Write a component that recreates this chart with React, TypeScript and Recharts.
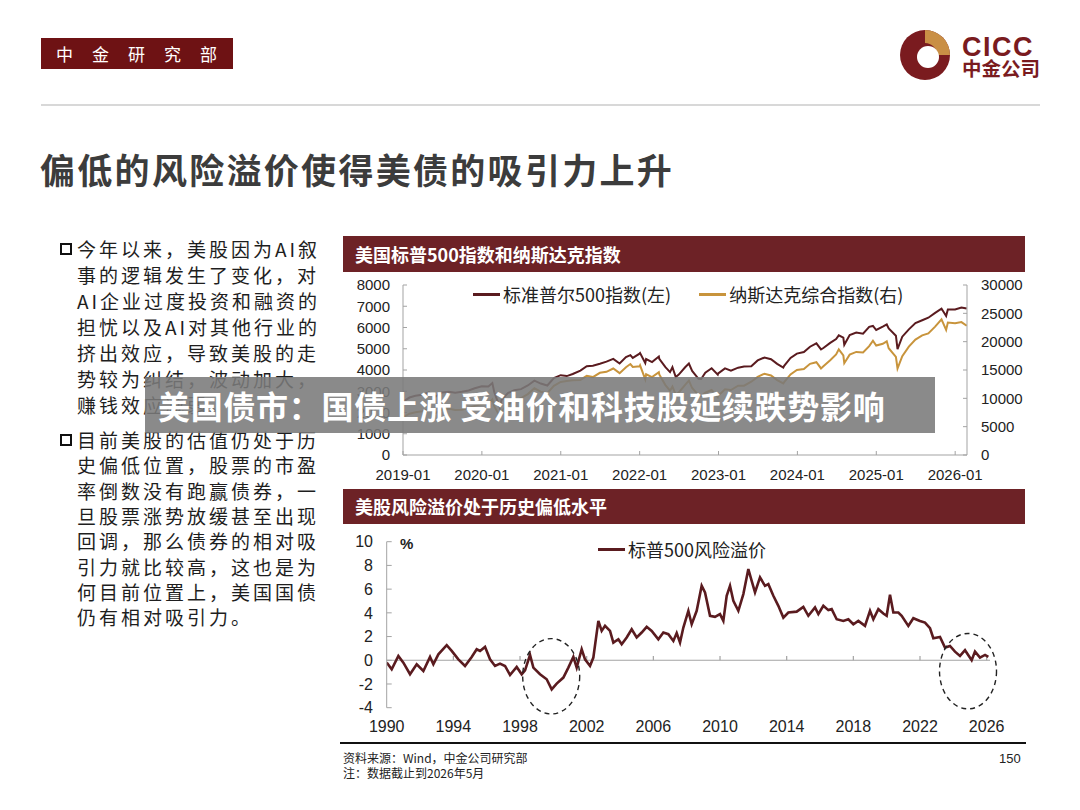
import React from 'react';
import { LineChart, Line, XAxis, YAxis, Legend, ReferenceLine, ReferenceDot } from 'recharts';

const CJK = '"Noto Sans CJK SC", "Noto Sans", sans-serif';
const NUM = '"Liberation Sans", Arial, sans-serif';
const MAROON = '#6d2226';
const SPX_COLOR = '#5a1b1f';
const NDX_COLOR = '#c8943c';
const AXIS = '#a3a3a3';

// ---------- Top chart: S&P 500 and Nasdaq ----------
const idxDates = [
  '2019-01-02','2019-01-31','2019-02-28','2019-03-29','2019-04-30','2019-05-31','2019-06-28','2019-07-31','2019-08-30','2019-09-30','2019-10-31','2019-11-29','2019-12-31',
  '2020-01-31','2020-02-19','2020-02-28','2020-03-23','2020-03-31','2020-04-30','2020-05-29','2020-06-30','2020-07-31','2020-08-31','2020-09-30','2020-10-30','2020-11-30','2020-12-31',
  '2021-01-29','2021-02-26','2021-03-31','2021-04-30','2021-05-28','2021-06-30','2021-07-30','2021-08-31','2021-09-30','2021-10-29','2021-11-19','2021-11-30','2021-12-31',
  '2022-01-03','2022-01-27','2022-01-31','2022-02-28','2022-03-29','2022-03-31','2022-04-29','2022-05-20','2022-05-31','2022-06-16','2022-06-30','2022-07-29','2022-08-16','2022-08-31','2022-09-30','2022-10-12','2022-10-31','2022-11-30','2022-12-28','2022-12-30',
  '2023-01-31','2023-02-28','2023-03-31','2023-04-28','2023-05-31','2023-06-30','2023-07-31','2023-08-31','2023-09-29','2023-10-27','2023-10-31','2023-11-30','2023-12-29',
  '2024-01-31','2024-02-29','2024-03-28','2024-04-19','2024-04-30','2024-05-31','2024-06-28','2024-07-10','2024-07-31','2024-08-05','2024-08-30','2024-09-30','2024-10-31','2024-11-29','2024-12-16','2024-12-31',
  '2025-01-31','2025-02-19','2025-02-28','2025-03-31','2025-04-08','2025-04-30','2025-05-30','2025-06-30','2025-07-31','2025-08-29','2025-09-30','2025-10-29','2025-11-20','2025-11-28','2025-12-31',
  '2026-01-30','2026-02-24',
];
const spxValues = [
  2510,2704,2784,2834,2946,2752,2942,2980,2926,2977,3038,3141,3231,
  3226,3386,2954,2237,2585,2912,3044,3100,3271,3500,3363,3270,3622,3756,
  3714,3811,3973,4181,4204,4298,4395,4523,4308,4605,4698,4567,4766,
  4797,4326,4516,4374,4632,4530,4132,3901,4132,3667,3785,4130,4305,3955,3586,3577,3872,4080,3783,3840,
  4077,3970,4109,4169,4180,4450,4589,4508,4288,4117,4194,4568,4770,
  4846,5096,5254,4967,5036,5278,5460,5633,5522,5186,5648,5762,5705,6032,6074,5882,
  6041,6144,5955,5612,4982,5569,5912,6205,6339,6460,6688,6890,6538,6849,6845,
  6940,6890,
];
const ndxValues = [
  6665,7282,7533,7729,8095,7453,8006,8175,7963,7999,8292,8665,8973,
  9151,9817,8567,6860,7700,8890,9490,10059,10745,11775,11168,10912,12199,12888,
  13071,13192,13247,13962,13749,14504,14673,15259,14449,15498,16057,15538,15645,
  15833,13353,14240,13751,14619,14221,12335,11355,12081,10646,11029,12391,13128,11816,10576,10417,10988,11468,10213,10466,
  11585,11456,12222,12227,12935,13788,14346,14035,13219,12643,12851,14226,15011,
  15164,16092,16379,15282,15658,16735,17733,18647,17599,16200,17714,18189,18095,19218,20173,19311,
  19627,20056,18847,17299,15267,17446,19114,20370,21122,21456,22660,23958,22078,23366,23242,
  23460,22800,
];
const idxYearTicks = [2019, 2020, 2021, 2022, 2023, 2024, 2025, 2026];
const leftTicks = [0, 1000, 2000, 3000, 4000, 5000, 6000, 7000, 8000];
const rightTicks = [0, 5000, 10000, 15000, 20000, 25000, 30000];
const spxName = '标准普尔500指数(左)';
const ndxName = '纳斯达克综合指数(右)';

// ---------- Bottom chart: S&P 500 equity risk premium ----------
const rpYears = [
  1990.0,1990.3,1990.7,1991.0,1991.4,1991.8,1992.2,1992.6,1992.8,1993.1,1993.6,1993.9,
  1994.3,1994.7,1995.1,1995.4,1995.6,1995.9,1996.2,1996.5,1996.8,1997.1,1997.4,1997.8,
  1998.1,1998.3,1998.6,1998.8,1999.2,1999.6,1999.9,2000.2,2000.6,2000.9,2001.2,2001.4,
  2001.7,2001.9,2002.2,2002.4,2002.7,2002.9,2003.1,2003.4,2003.6,2003.9,2004.1,2004.4,
  2004.7,2005.0,2005.3,2005.6,2005.9,2006.3,2006.6,2006.9,2007.2,2007.4,2007.6,2007.8,
  2008.1,2008.3,2008.6,2008.9,2009.1,2009.4,2009.7,2010.0,2010.2,2010.4,2010.6,2010.8,
  2011.1,2011.4,2011.7,2011.9,2012.1,2012.4,2012.7,2012.9,2013.2,2013.5,2013.8,2014.1,
  2014.6,2015.0,2015.3,2015.7,2015.9,2016.2,2016.5,2016.7,2017.0,2017.4,2017.7,2018.0,
  2018.3,2018.7,2019.0,2019.2,2019.5,2019.8,2020.0,2020.2,2020.4,2020.7,2020.9,2021.3,
  2021.6,2022.0,2022.3,2022.6,2022.8,2023.2,2023.5,2023.8,2024.1,2024.4,2024.7,2025.1,
  2025.3,2025.6,2025.9,2026.1,
];
const rpValues = [
  -0.2,-0.76,0.37,-0.2,-1.18,-0.34,-0.9,0.28,-0.34,0.5,1.27,0.79,
  0.08,-0.48,0.28,0.93,0.79,1.13,0.08,-0.48,-0.28,-0.48,-1.24,-0.56,
  -1.18,-0.85,0.45,-0.62,-1.18,-1.6,-2.45,-1.97,-1.46,-0.62,0.28,-0.62,
  0.93,0.08,-0.48,0.23,3.32,2.48,2.9,2.48,1.49,1.77,1.35,1.92,
  2.62,1.92,2.34,2.82,2.48,1.77,2.34,2.2,1.63,2.3,1.5,2.76,
  4.17,3.04,4.17,6.28,5.72,3.75,3.66,3.89,3.32,5.44,6.28,5.01,
  4.17,5.58,7.69,6.7,5.72,6.99,6.28,6.42,5.44,4.59,3.6,4.03,
  4.1,4.5,3.75,4.45,3.89,4.59,4.23,4.31,3.46,3.32,3.46,3.04,
  3.32,2.9,4.17,3.46,4.31,3.94,3.75,5.52,4.03,4.03,3.75,2.9,
  3.55,3.32,3.18,2.7,1.86,1.97,1.07,1.21,0.73,0.37,0.85,0.0,
  0.73,0.23,0.45,0.28,
];
const rpYearTicks = [1990, 1994, 1998, 2002, 2006, 2010, 2014, 2018, 2022, 2026];
const rpValueTicks = [-4, -2, 0, 2, 4, 6, 8, 10];
const rpName = '标普500风险溢价';
const circleCenters = [
  { x: 1999.87, y: -1.35 },
  { x: 2024.88, y: -0.92 },
];

const leftBullets = [
  ['今年以来，美股因为AI叙', '事的逻辑发生了变化，对', 'AI企业过度投资和融资的', '担忧以及AI对其他行业的', '挤出效应，导致美股的走', '势较为纠结，波动加大，', '赚钱效应减弱。'],
  ['目前美股的估值仍处于历', '史偏低位置，股票的市盈', '率倒数没有跑赢债券，一', '旦股票涨势放缓甚至出现', '回调，那么债券的相对吸', '引力就比较高，这也是为', '何目前位置上，美国国债', '仍有相对吸引力。'],
];

function toYear(s: string): number {
  const [y, m, d] = s.split('-').map(Number);
  return y + (m - 1) / 12 + (d - 1) / 365;
}

const idxData = idxDates.map((d, i) => ({ t: toYear(d), spx: spxValues[i], ndx: ndxValues[i] }));
const rpData = rpYears.map((y, i) => ({ t: y, v: rpValues[i] }));

const LegendLine = ({ items }: { items: { color: string; name: string }[] }) => (
  <div style={{ display: 'flex', alignItems: 'center', fontFamily: CJK, fontSize: 18, lineHeight: '22px', color: '#222', whiteSpace: 'nowrap' }}>
    {items.map((it, i) => (
      <div key={i} style={{ display: 'flex', alignItems: 'center', marginRight: i < items.length - 1 ? 28 : 0 }}>
        <div style={{ width: 27, height: 3, background: it.color, marginRight: 3 }} />
        <span>{it.name}</span>
      </div>
    ))}
  </div>
);

const tickNum = (size: number, anchor?: string) => ({ fill: '#222', fontSize: size, fontFamily: NUM, ...(anchor ? { textAnchor: anchor } : {}) });

const TopChart = () => (
  <LineChart width={690} height={215} data={idxData} margin={{ top: 10, right: 8, bottom: 10, left: 13 }}>
    <XAxis
      dataKey="t"
      type="number"
      domain={[2019, 2026.15]}
      ticks={idxYearTicks}
      interval={0}
      tickFormatter={(v: number) => `${v}-01`}
      allowDataOverflow
      height={25}
      stroke={AXIS}
      tickSize={-4}
      tickMargin={18}
      tick={tickNum(15)}
    />
    <YAxis
      yAxisId="left"
      domain={[0, 8000]}
      ticks={leftTicks}
      interval={0}
      width={50}
      stroke={AXIS}
      tickSize={-4}
      tickMargin={17}
      tick={tickNum(15)}
    />
    <YAxis
      yAxisId="right"
      orientation="right"
      domain={[0, 30000]}
      ticks={rightTicks}
      interval={0}
      width={55}
      stroke={AXIS}
      tickSize={-4}
      tickMargin={18}
      tick={tickNum(15, 'start')}
    />
    <Legend
      layout="horizontal"
      verticalAlign="middle"
      align="center"
      wrapperStyle={{ top: 8, left: 133, width: 'auto', height: 22 }}
      content={() => (
        <LegendLine items={[{ color: SPX_COLOR, name: spxName }, { color: NDX_COLOR, name: ndxName }]} />
      )}
    />
    <Line yAxisId="right" dataKey="ndx" name={ndxName} stroke={NDX_COLOR} strokeWidth={2} dot={false} isAnimationActive={false} />
    <Line yAxisId="left" dataKey="spx" name={spxName} stroke={SPX_COLOR} strokeWidth={2} dot={false} isAnimationActive={false} />
  </LineChart>
);

const Ellipse = (p: any) => (
  <ellipse cx={p.cx} cy={p.cy} rx={28.5} ry={37.7} fill="none" stroke="#222" strokeWidth={1.4} strokeDasharray="5 4" />
);

const BottomChart = () => (
  <LineChart width={690} height={215} data={rpData} margin={{ top: 14.7, right: 40, bottom: 6.3, left: 6.7 }}>
    <XAxis
      dataKey="t"
      type="number"
      domain={[1990, 2026.2]}
      ticks={rpYearTicks}
      interval={0}
      allowDataOverflow
      height={28}
      axisLine={false}
      tickLine={false}
      tickSize={0}
      tickMargin={12.7}
      tick={tickNum(16)}
    />
    <YAxis
      domain={[-4, 10]}
      ticks={rpValueTicks}
      interval={0}
      width={40}
      stroke={AXIS}
      tickSize={-5}
      tickMargin={18.7}
      tick={tickNum(16)}
    />
    <ReferenceLine y={0} stroke={AXIS} strokeWidth={1.2} />
    {rpYearTicks.slice(1).map((yr) => (
      <ReferenceLine key={yr} segment={[{ x: yr, y: 0 }, { x: yr, y: 0.35 }]} stroke={AXIS} strokeWidth={1.2} />
    ))}
    <Legend
      layout="horizontal"
      verticalAlign="middle"
      align="center"
      wrapperStyle={{ top: 11, left: 258, width: 'auto', height: 22 }}
      content={() => <LegendLine items={[{ color: SPX_COLOR, name: rpName }]} />}
    />
    <Line dataKey="v" name={rpName} stroke={SPX_COLOR} strokeWidth={2.6} dot={false} isAnimationActive={false} />
    {circleCenters.map((c, i) => (
      <ReferenceDot key={i} x={c.x} y={c.y} r={30} shape={Ellipse} ifOverflow="visible" />
    ))}
  </LineChart>
);

const abs = (s: React.CSSProperties): React.CSSProperties => ({ position: 'absolute', ...s });

export default function App() {
  return (
    <div style={{ position: 'absolute', left: 0, top: 0, width: 1080, height: 810, background: '#fff', overflow: 'hidden', fontFamily: CJK }}>
      {/* header tag */}
      <div style={abs({ left: 41, top: 38, width: 192, height: 31, background: '#6e1214', color: '#fff', fontSize: 17, lineHeight: '31px', letterSpacing: 19, paddingLeft: 15, boxSizing: 'border-box', whiteSpace: 'nowrap' })}>
        中金研究部
      </div>
      {/* logo */}
      <svg style={abs({ left: 896, top: 26, width: 160, height: 60 })} width={160} height={60}>
        <circle cx={29} cy={29} r={25} fill="#7a1b1f" />
        <path d="M29 4 A25 25 0 0 1 54 29 L41 29 A12 12 0 0 0 29 17 Z" fill="#c98f45" />
        <circle cx={32} cy={31} r={11} fill="#fff" />
        <text x={66} y={30} fontFamily={NUM} fontWeight="bold" fontSize={27} letterSpacing={1.5} fill="#7a1b1f">CICC</text>
        <text x={66} y={50} fontFamily={CJK} fontWeight="bold" fontSize={19.5} fill="#7a1b1f">中金公司</text>
      </svg>
      <div style={abs({ left: 41, top: 104, width: 999, height: 2, background: '#d8d8d8' })} />
      {/* title */}
      <div style={abs({ left: 40, top: 146, fontSize: 35, lineHeight: '46px', fontWeight: 700, color: '#3c3c3c', letterSpacing: 2.3, whiteSpace: 'nowrap' })}>
        偏低的风险溢价使得美债的吸引力上升
      </div>
      {/* left text */}
      {leftBullets.map((para, pi) => (
        <div key={pi} style={abs({ left: 0, top: pi === 0 ? 236 : 427 })}>
          <div style={abs({ left: 60, top: 7, width: 8, height: 8, border: '2.5px solid #111' })} />
          {para.map((line, li) => (
            <div key={li} style={abs({ left: 77, top: li * (pi === 0 ? 26 : 25.3), fontSize: 19, lineHeight: '26px', letterSpacing: 3, color: '#1e1e1e', whiteSpace: 'nowrap' })}>
              {line}
            </div>
          ))}
        </div>
      ))}
      {/* top chart */}
      <div style={abs({ left: 343, top: 236, width: 682, height: 36, background: MAROON, color: '#fff', fontSize: 18, fontWeight: 700, lineHeight: '36px', paddingLeft: 12, boxSizing: 'border-box', whiteSpace: 'nowrap' })}>
        美国标普500指数和纳斯达克指数
      </div>
      <div style={abs({ left: 340, top: 275 })}>
        <TopChart />
      </div>
      {/* bottom chart */}
      <div style={abs({ left: 343, top: 489, width: 682, height: 35, background: MAROON, color: '#fff', fontSize: 18, fontWeight: 700, lineHeight: '35px', paddingLeft: 12, boxSizing: 'border-box', whiteSpace: 'nowrap' })}>
        美股风险溢价处于历史偏低水平
      </div>
      <div style={abs({ left: 340, top: 527 })}>
        <BottomChart />
      </div>
      <div style={abs({ left: 400, top: 535, fontFamily: NUM, fontSize: 15, fontWeight: 700, color: '#222' })}>%</div>
      {/* footer */}
      <div style={abs({ left: 340, top: 742, width: 686, height: 2, background: '#111' })} />
      <div style={abs({ left: 343, top: 750, fontSize: 12, lineHeight: '15px', color: '#222', whiteSpace: 'nowrap' })}>
        资料来源：Wind，中金公司研究部
      </div>
      <div style={abs({ left: 343, top: 765, fontSize: 12, lineHeight: '15px', color: '#222', whiteSpace: 'nowrap' })}>
        注：数据截止到2026年5月
      </div>
      <div style={abs({ left: 999, top: 751, fontFamily: NUM, fontSize: 13, color: '#222' })}>150</div>
      {/* overlay banner */}
      <div style={abs({ left: 145, top: 377, width: 790, height: 56, background: 'rgba(122,122,122,0.88)', color: '#fff', fontSize: 32, fontWeight: 700, lineHeight: '56px', paddingLeft: 13, boxSizing: 'border-box', letterSpacing: 0.7, whiteSpace: 'nowrap', zIndex: 10 })}>
        美国债市：国债上涨 受油价和科技股延续跌势影响
      </div>
    </div>
  );
}
